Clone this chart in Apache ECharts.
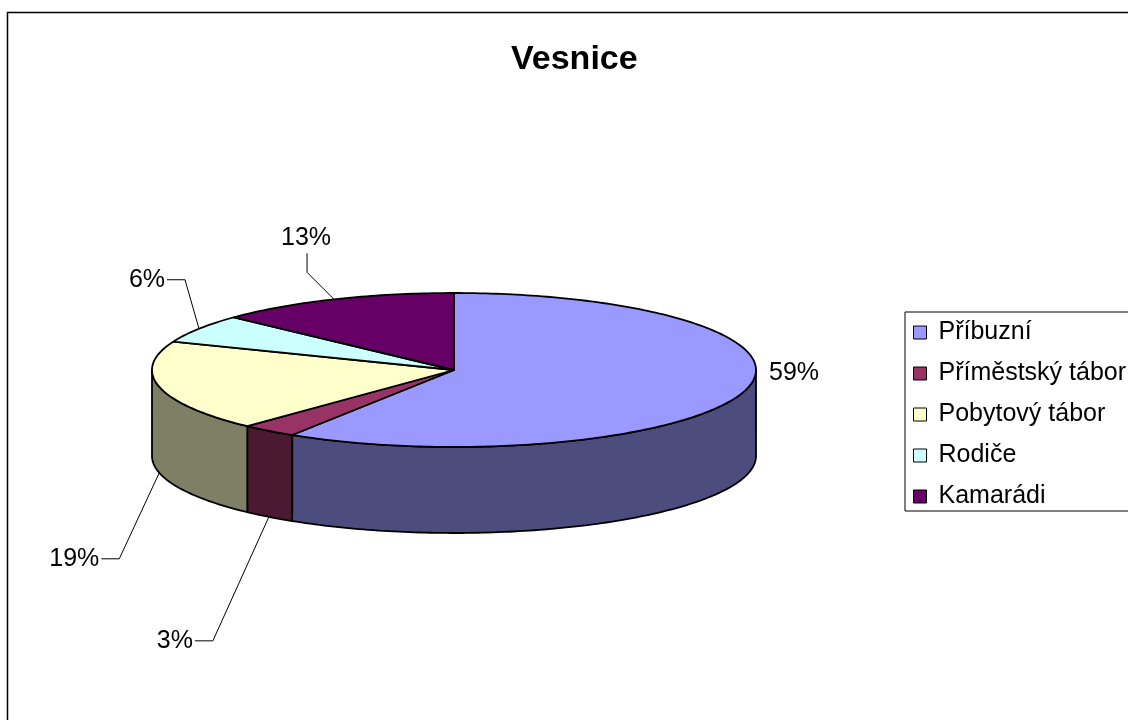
<!DOCTYPE html>
<html>
<head>
<meta charset="utf-8">
<script src="https://cdn.jsdelivr.net/npm/echarts@6/dist/echarts.min.js"></script>
<style>
  html, body { margin: 0; padding: 0; background: #fff; }
  #chart { width: 1128px; height: 720px; }
</style>
</head>
<body>
<div id="chart"></div>
<script>
// Where children of the village spend their holidays (share of answers, %)
const categories = ['Příbuzní', 'Příměstský tábor', 'Pobytový tábor', 'Rodiče', 'Kamarádi'];
const shares = [59, 3, 19, 6, 13];

// Face colours of the tilted pie: top surface and the darker outer wall
const topColors = ['#9999FF', '#993366', '#FFFFCC', '#CCFFFF', '#660066'];
const sideColors = ['#4C4C7F', '#4C1933', '#7F7F66', '#667F7F', '#330033'];

// Label placement relative to the slice edge: [dx, dy, leader style]
const labelPlacement = [
  [25, -104, 'none'],
  [-74, 124, 'side'],
  [-58, 86, 'side'],
  [-32, -49, 'side'],
  [-27, -46, 'below']
];

const FONT = '"Liberation Sans", Arial, sans-serif';
const TILT = 77 / 302;   // vertical squash of the pie disc
const DEPTH = 86;        // height of the pie wall in px

const total = shares.reduce((a, b) => a + b, 0);
const starts = [];
shares.reduce((acc, v, i) => { starts[i] = acc; return acc + v; }, 0);

function renderSlice(params, api) {
  const start = api.value(0);
  const end = api.value(1);
  const idx = api.value(2);
  const c = api.coord([0, 0]);
  const flat = p => [p[0], c[1] + (p[1] - c[1]) * TILT];
  const arc = (a, b) => {
    const n = Math.max(2, Math.ceil((b - a) / total * 360));
    const pts = [];
    for (let k = 0; k <= n; k++) pts.push(flat(api.coord([1, a + (b - a) * k / n])));
    return pts;
  };
  const children = [];

  // outer wall: only the part facing the viewer (3 o'clock to 9 o'clock)
  const fs = Math.max(start, total * 0.25);
  const fe = Math.min(end, total * 0.75);
  if (fe > fs) {
    const upper = arc(fs, fe);
    const lower = upper.map(p => [p[0], p[1] + DEPTH]).reverse();
    children.push({
      type: 'polygon',
      shape: { points: upper.concat(lower) },
      style: { fill: sideColors[idx], stroke: '#000', lineWidth: 1.8, lineJoin: 'round' }
    });
  }

  // top face
  children.push({
    type: 'polygon',
    shape: { points: [c].concat(arc(start, end)) },
    style: { fill: topColors[idx], stroke: '#000', lineWidth: 1.8, lineJoin: 'round' }
  });

  // percentage label with leader line
  const mid = (start + end) / 2;
  const anchor = flat(api.coord([1, mid]));
  if (mid > total * 0.25 && mid < total * 0.75) anchor[1] += DEPTH;
  const [dx, dy, kind] = labelPlacement[idx];
  const s = [anchor[0] + dx, anchor[1] + dy];
  const text = Math.round(shares[idx] / total * 100) + '%';
  const font = '25px ' + FONT;
  if (kind === 'none') {
    children.push({ type: 'text', style: { text, x: s[0], y: s[1], font, fill: '#000', align: 'left', verticalAlign: 'middle' } });
  } else if (kind === 'side') {
    children.push({ type: 'text', style: { text, x: s[0] - 2, y: s[1], font, fill: '#000', align: 'right', verticalAlign: 'middle' } });
    children.push({ type: 'polyline', shape: { points: [s, [s[0] + 18, s[1]], anchor] }, style: { stroke: '#000', lineWidth: 1, fill: null } });
  } else {
    children.push({ type: 'text', style: { text, x: s[0] - 1, y: s[1] - 3, font, fill: '#000', align: 'center', verticalAlign: 'bottom' } });
    children.push({ type: 'polyline', shape: { points: [s, [s[0], s[1] + 19], anchor] }, style: { stroke: '#000', lineWidth: 1, fill: null } });
  }
  return { type: 'group', children };
}

const chart = echarts.init(document.getElementById('chart'), null, { renderer: 'canvas' });
chart.setOption({
  animation: false,
  backgroundColor: '#fff',
  color: topColors,
  title: {
    text: 'Vesnice',
    left: 506,
    top: 38,
    textStyle: { fontFamily: FONT, fontSize: 34, fontWeight: 'bold', color: '#000' }
  },
  graphic: [{
    type: 'rect',
    shape: { x: 7.5, y: 12.5, width: 1200, height: 800 },
    style: { fill: null, stroke: '#000', lineWidth: 1.5 },
    silent: true
  }],
  legend: {
    data: categories,
    orient: 'vertical',
    left: 905,
    top: 312,
    padding: [8, 30, 2, 8],
    borderColor: '#000',
    borderWidth: 1,
    itemWidth: 13,
    itemHeight: 13,
    itemGap: 16,
    icon: 'rect',
    selectedMode: false,
    itemStyle: { borderColor: '#000', borderWidth: 1 },
    textStyle: { fontFamily: FONT, fontSize: 25, color: '#000', padding: [0, 0, 0, 7] }
  },
  polar: { center: [454, 370], radius: 302 },
  angleAxis: { type: 'value', min: 0, max: total, startAngle: 90, clockwise: true, show: false },
  radiusAxis: { type: 'value', min: 0, max: 1, show: false },
  series: categories.map((name, i) => ({
    type: 'custom',
    name,
    coordinateSystem: 'polar',
    silent: true,
    itemStyle: { color: topColors[i] },
    data: [[starts[i], starts[i] + shares[i], i]],
    renderItem: renderSlice
  }))
});
</script>
</body>
</html>
